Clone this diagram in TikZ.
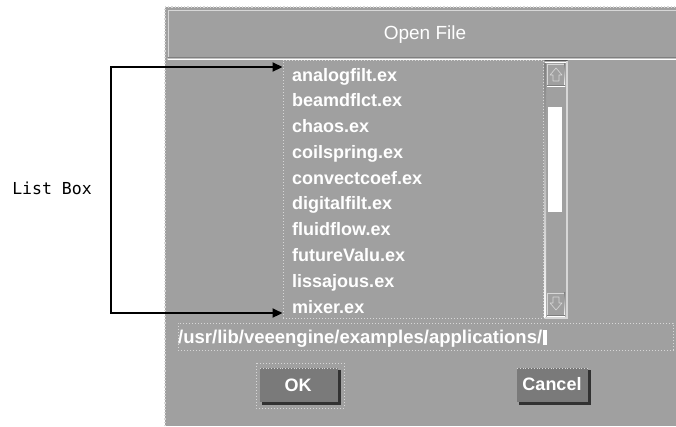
\documentclass[tikz,border=0pt]{standalone}
\usepackage{fontspec}
\setmainfont{Liberation Sans}
\newfontfamily\labelmono{DejaVu Sans Mono}
\usetikzlibrary{arrows.meta}

\definecolor{panel}{RGB}{160,160,160}
\definecolor{hilite}{RGB}{215,215,215}
\definecolor{shade}{RGB}{95,95,95}
\definecolor{btnface}{RGB}{122,122,122}
\definecolor{btnshadow}{RGB}{50,50,50}

\tikzset{
  item/.style={anchor=base west, inner sep=0pt, text=white,
    font=\fontsize{18}{20}\selectfont\bfseries},
  btnlabel/.style={text=white, inner sep=0pt,
    font=\fontsize{18}{20}\selectfont\bfseries},
  dotframe/.style={draw=hilite, dotted, line width=1pt},
  callout/.style={line width=2.2pt, black, -{Triangle[length=10pt,width=9pt]}},
}

\begin{document}
\begin{tikzpicture}[x=1pt,y=-1pt]
\useasboundingbox (0,0) rectangle (676,426);

% dialog body
\fill[panel] (165,7) rectangle (676,426);
\draw[hilite, dotted, line width=1.2pt] (165,426) -- (165,7);
\draw[hilite, dotted, line width=1.2pt] (165,7) -- (676,7);

% title bar with bevel
\fill[hilite] (167.5,9.5) rectangle (169,57);
\fill[hilite] (167.5,9.5) rectangle (676,11);
\fill[shade] (167.5,57) rectangle (676,59);
\node[text=white, inner sep=0pt, font=\fontsize{19}{21}\selectfont] (title) at (425,35) {Open File};

% list box
\node[dotframe, minimum width=260pt, minimum height=258pt, inner sep=0pt] (list) at (413,189) {};
\foreach \name [count=\i from 0] in {analogfilt.ex, beamdflct.ex, chaos.ex, coilspring.ex,
    convectcoef.ex, digitalfilt.ex, fluidflow.ex, futureValu.ex, lissajous.ex, mixer.ex} {
  \node[item] (it\i) at (292,{81+25.78*\i}) {\name};
}

% scroll bar trough
\fill[shade] (544.5,60.5) rectangle (546,318.5);
\fill[shade] (544.5,60.5) rectangle (567.5,62);
\fill[hilite] (566,60.5) rectangle (567.5,318.5);
\fill[hilite] (544.5,317) rectangle (567.5,318.5);
% up arrow button
\fill[hilite] (547,63.5) rectangle (548,86);
\fill[hilite] (547,63.5) rectangle (565,64.5);
\fill[shade] (564,63.5) rectangle (565,86);
\fill[shade] (547,85) rectangle (565,86);
\draw[hilite, line width=0.6pt, line join=round] (553,81) -- (553,75) -- (550,75) -- (556,68) -- (562,75) -- (559,75) -- (559,81) -- cycle;
% slider
\fill[white] (548,107) rectangle (562,212);
% down arrow button
\fill[hilite] (547,292.5) rectangle (548,316);
\fill[hilite] (547,292.5) rectangle (565,293.5);
\fill[shade] (564,292.5) rectangle (565,316);
\fill[shade] (547,315) rectangle (565,316);
\draw[hilite, line width=0.6pt, line join=round] (553,297) -- (553,303) -- (550,303) -- (556,310) -- (562,303) -- (559,303) -- (559,297) -- cycle;

% path entry field
\node[dotframe, minimum width=495pt, minimum height=27pt, inner sep=0pt] (field) at (425.5,336.5) {};
\node[item, font=\fontsize{18.5}{20}\selectfont\bfseries] (path) at (178,343) {/usr/lib/veeengine/examples/applications/};
\fill[white] ([xshift=1pt,yshift=13pt]path.base east) rectangle ([xshift=4.5pt,yshift=-2pt]path.base east);

% OK button (with focus frame)
\draw[hilite, dotted, line width=1pt] (256,363) rectangle (344,408);
\fill[btnface] (260,368) rectangle (338,402);
\fill[btnshadow] (338,370) rectangle (340.5,405);
\fill[btnshadow] (262,402) rectangle (340.5,405);
\draw[hilite, dotted, line width=0.8pt] (260,368.5) -- (338,368.5);
\node[btnlabel] (ok) at (298,385) {OK};
% Cancel button
\fill[btnface] (517,368) rectangle (588,402);
\fill[btnshadow] (588,370) rectangle (590.5,405);
\fill[btnshadow] (519,402) rectangle (590.5,405);
\draw[hilite, dotted, line width=0.8pt] (517,368.5) -- (588,368.5);
\node[btnlabel] (cancel) at (552,384) {Cancel};

% callout
\node[inner sep=0pt, font=\labelmono\fontsize{16.5}{18}\selectfont] (lbl) at (52,188) {List Box};
\coordinate (ctop) at (111,67);
\coordinate (cbot) at (111,313);
\draw[callout] (ctop) -- (ctop -| list.west);
\draw[callout] (cbot) -- (cbot -| list.west);
\draw[line width=2.2pt, line cap=rect] (ctop) -- (cbot);
\end{tikzpicture}
\end{document}
